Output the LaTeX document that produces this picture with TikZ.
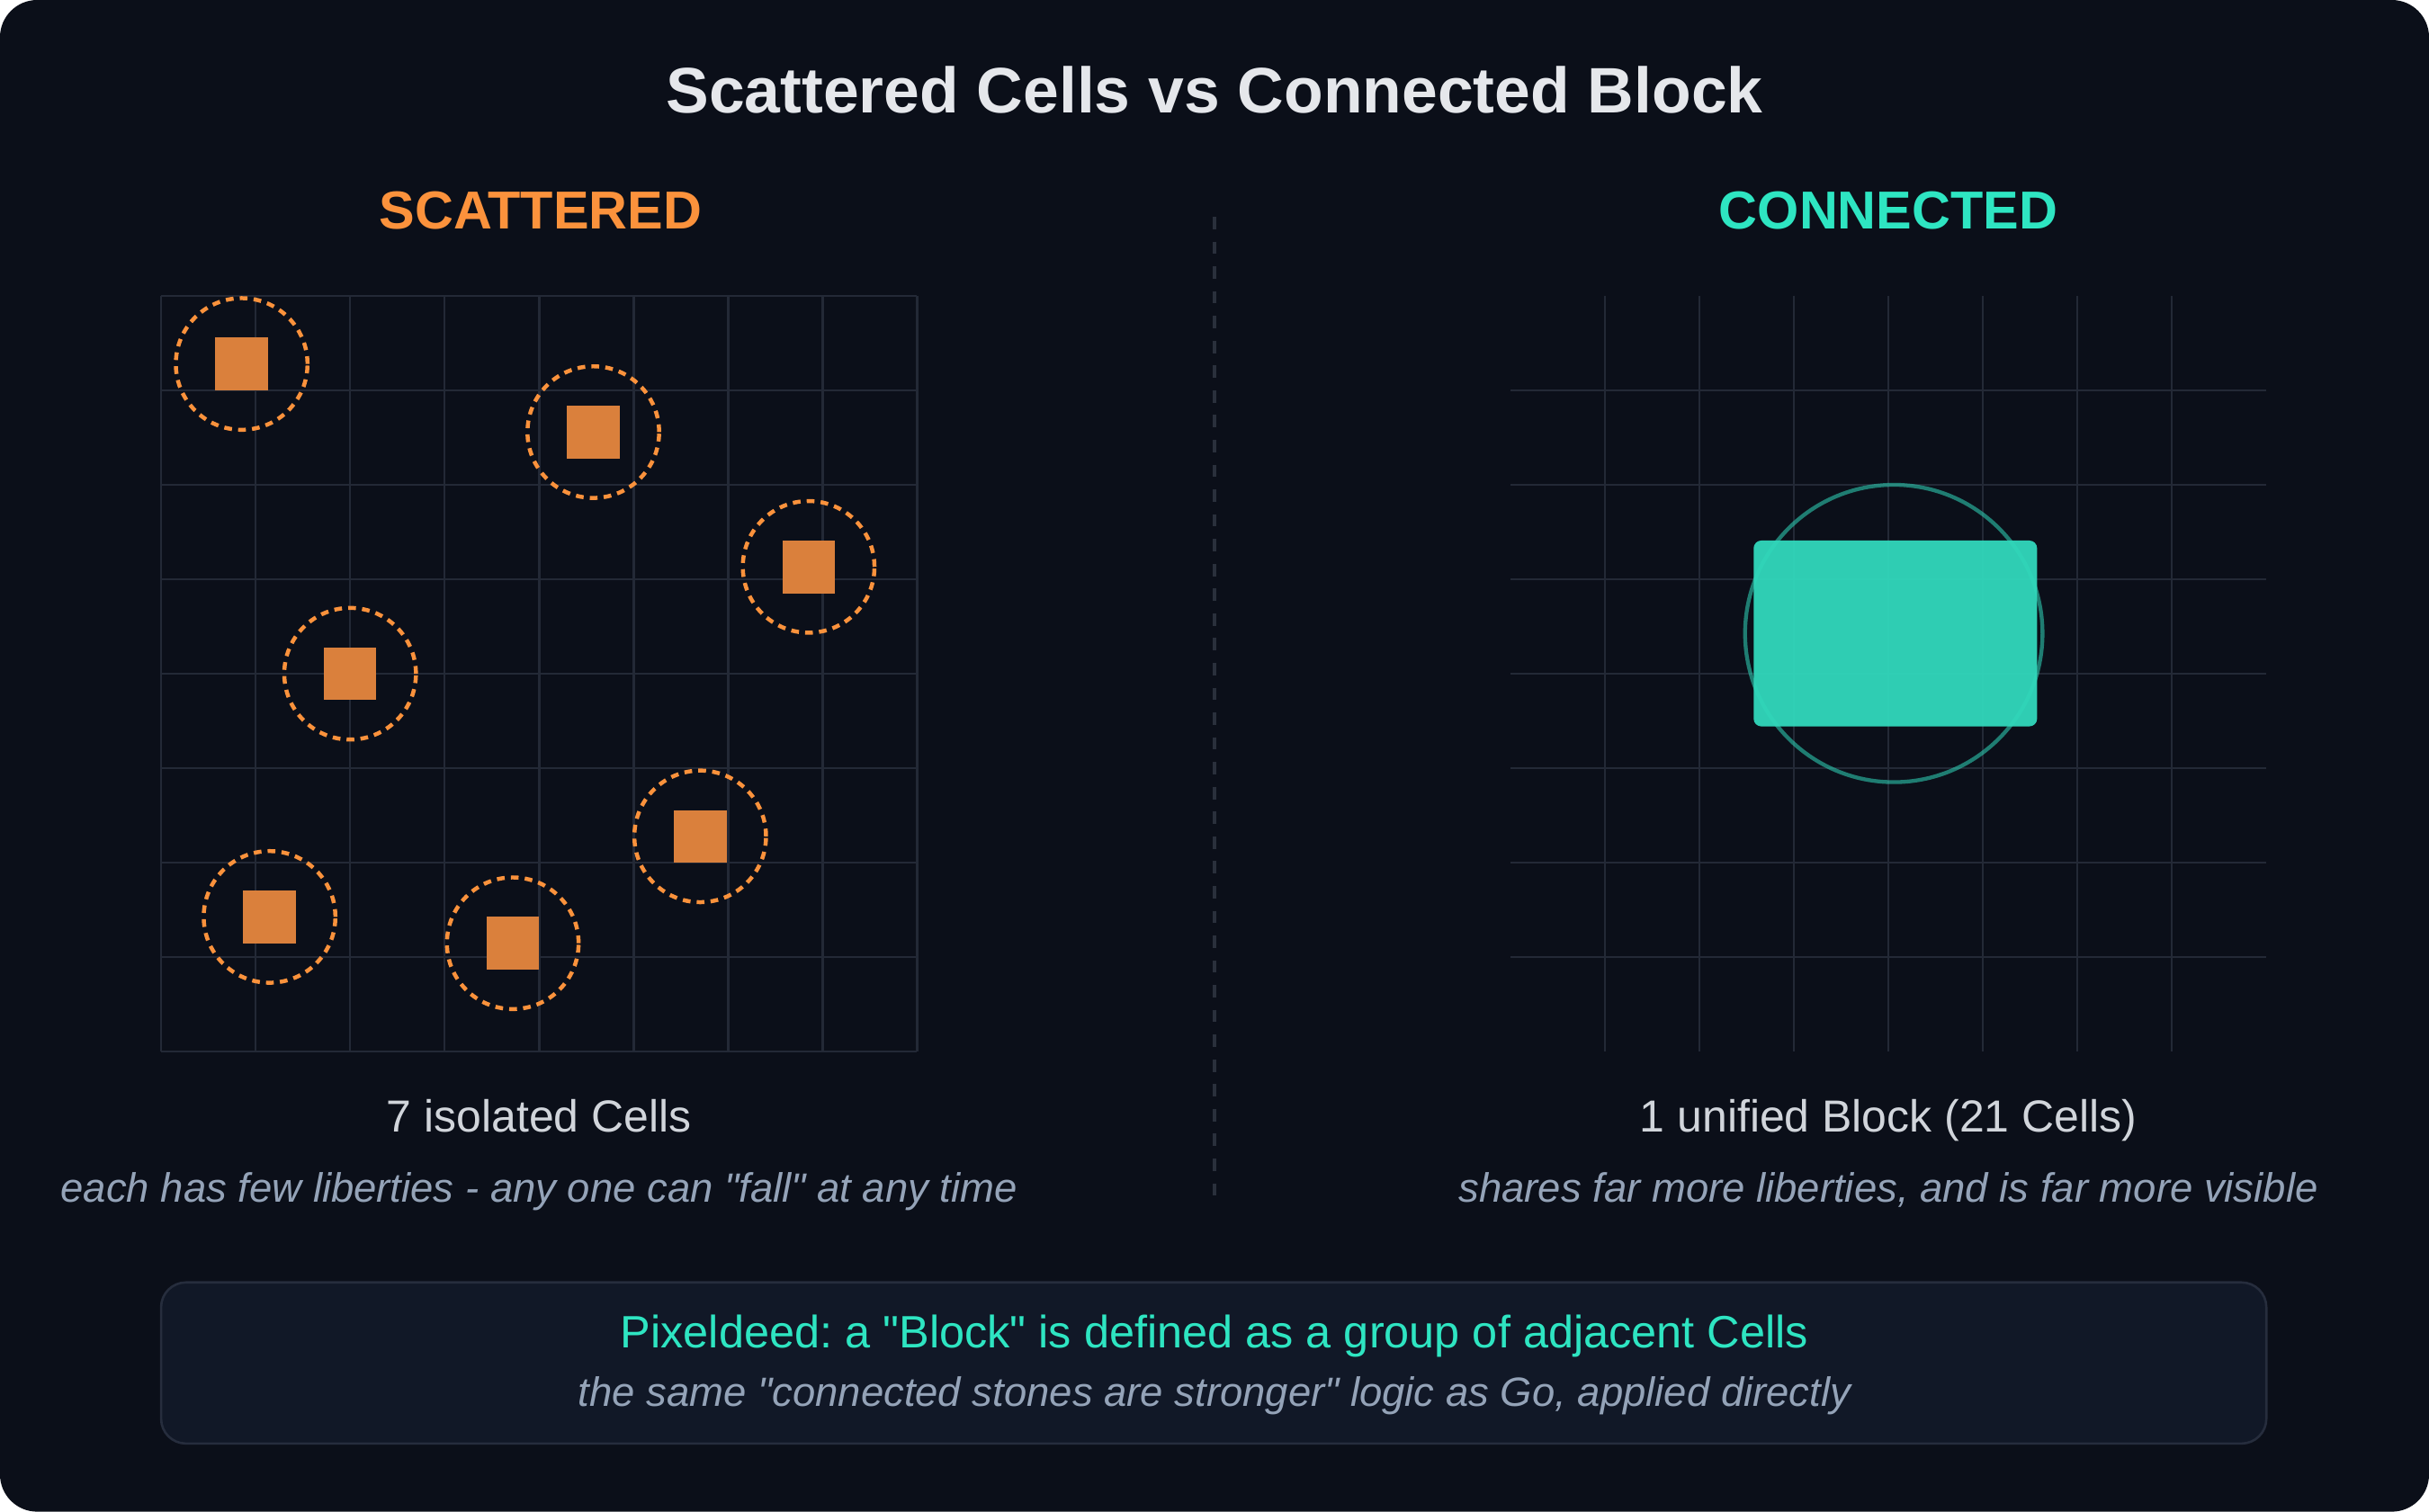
\documentclass[tikz,border=0pt]{standalone}
\usepackage{fontspec}
\setmainfont{Liberation Sans}
\frenchspacing
\definecolor{bgdark}{HTML}{0B0F19}
\definecolor{gridgray}{HTML}{232936}
\definecolor{titlewhite}{HTML}{E5E7EB}
\definecolor{labelgray}{HTML}{D1D5DB}
\definecolor{subgray}{HTML}{94A3B8}
\definecolor{scatorange}{HTML}{FB923C}
\definecolor{cellorange}{HTML}{DA803C}
\definecolor{connteal}{HTML}{2EE5C2}
\definecolor{blockteal}{HTML}{31D8BC}
\definecolor{notefill}{HTML}{111827}
\definecolor{noteline}{HTML}{262D3D}
\definecolor{dividergray}{HTML}{2A303C}

\begin{document}
\begin{tikzpicture}[x=1pt,y=1pt,yscale=-1,xscale=1,
	gridline/.style={draw=gridgray, line width=1.5},
	cellsq/.style={rectangle, fill=cellorange, minimum size=34, inner sep=0},
	libring/.style={circle, draw=scatorange, line width=2.6, dash pattern=on 5 off 4, minimum size=85, inner sep=0},
	headtext/.style={font=\bfseries\fontsize{34.5}{40}\selectfont, inner sep=0, anchor=base},
	labeltext/.style={text=labelgray, font=\fontsize{29}{34}\selectfont, inner sep=0, anchor=base},
	subtext/.style={text=subgray, font=\itshape\fontsize{26.4}{30}\selectfont, inner sep=0, anchor=base}]
	\useasboundingbox (0,0) rectangle (1568,976);
	\fill[bgdark, rounded corners=24] (0,0) rectangle (1568,976);
	\node[text=titlewhite, font=\bfseries\fontsize{41.5}{48}\selectfont, inner sep=0, anchor=base] (title) at (784,73) {Scattered Cells vs Connected Block};
	\node[headtext, text=scatorange] (scathead) at (349,148) {SCATTERED};
	\node[headtext, text=connteal] (connhead) at (1219,148) {CONNECTED};
	% left board
	\foreach \k in {0,...,8} {
		\draw[gridline] (104+61*\k,191) -- (104+61*\k,679);
		\draw[gridline] (104,191+61*\k) -- (592,191+61*\k);
	}
	\foreach \cx/\cy [count=\i] in {156/235,383/279,522/366,226/435,452/540,174/592,331/609} {
		\node[cellsq] (cell\i) at (\cx,\cy) {};
		\node[libring] (ring\i) at (cell\i) {};
	}
	% right board
	\foreach \k in {1,...,7} {
		\draw[gridline] (975+61*\k,191) -- (975+61*\k,679);
		\draw[gridline] (975,191+61*\k) -- (1463,191+61*\k);
	}
	\node[rectangle, fill=blockteal, fill opacity=0.95, rounded corners=5, minimum width=183, minimum height=120, inner sep=0] (block) at (1223.5,409) {};
	\node[circle, draw=blockteal, draw opacity=0.55, line width=2.5, minimum size=192, inner sep=0] (blockring) at (1222.5,409) {};
	% divider
	\draw[dividergray, line width=2, dash pattern=on 8 off 8] (784,140) -- (784,776);
	\node[labeltext] (scatlabel) at (348,731) {7 isolated Cells};
	\node[labeltext] (connlabel) at (1219,731) {1 unified Block (21 Cells)};
	\node[subtext] (scatsub) at (348,776) {each has few liberties - any one can \textquotedbl fall\textquotedbl\ at any time};
	\node[subtext] (connsub) at (1219,776) {shares far more liberties, and is far more visible};
	% note
	\node[rectangle, fill=notefill, draw=noteline, line width=1.5, rounded corners=16, minimum width=1359, minimum height=104, inner sep=0] (note) at (783.5,880) {};
	\node[text=connteal, font=\fontsize{29.3}{34}\selectfont, inner sep=0, anchor=base] (notehead) at (784,870) {Pixeldeed: a \textquotedbl Block\textquotedbl\ is defined as a group of adjacent Cells};
	\node[subtext] (notesub) at (784,908) {the same \textquotedbl connected stones are stronger\textquotedbl\ logic as Go, applied directly};
\end{tikzpicture}
\end{document}
